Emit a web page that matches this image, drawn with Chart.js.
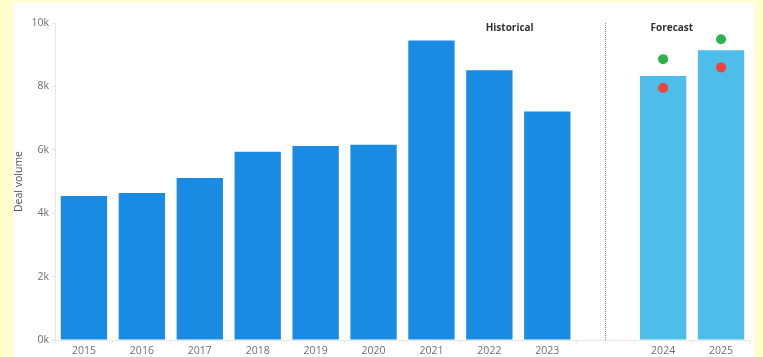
<!DOCTYPE html>
<html>
<head>
<meta charset="utf-8">
<script src="https://cdn.jsdelivr.net/npm/chart.js@4/dist/chart.umd.min.js"></script>
<style>
  html, body { margin: 0; padding: 0; background: #ffffcc; }
  #panel { position: absolute; left: 13px; top: 2px; width: 742px; height: 355px; background: #fff; }
</style>
</head>
<body>
<div id="panel"><canvas id="chart" width="742" height="355"></canvas></div>
<script>
// categories - the empty one is the gap between historical and forecast
const years = ['2015', '2016', '2017', '2018', '2019', '2020', '2021', '2022', '2023', '', '2024', '2025'];
// deal volume per year (forecast values for 2024/2025)
const dealVolume = [4540, 4640, 5110, 5940, 6120, 6160, 9450, 8510, 7210, null, 8330, 9140];
// upper / lower forecast markers
const highCase = [null, null, null, null, null, null, null, null, null, null, 8860, 9490];
const lowCase = [null, null, null, null, null, null, null, null, null, null, 7950, 8600];
const yTicks = [0, 2000, 4000, 6000, 8000, 10000];

const gapIndex = years.indexOf('');
const barColors = years.map((y, i) => i > gapIndex ? '#4fbde9' : '#1a8be3');

// draws the dashed divider and the section labels
const sectionPlugin = {
  id: 'sections',
  afterDatasetsDraw(chart) {
    const { ctx, chartArea, scales } = chart;
    const x = Math.round(scales.x.getPixelForValue(gapIndex)) + 0.5;
    ctx.save();
    ctx.strokeStyle = '#888';
    ctx.lineWidth = 1;
    ctx.setLineDash([1, 1]);
    ctx.beginPath();
    ctx.moveTo(x, chartArea.top);
    ctx.lineTo(x, chartArea.bottom);
    ctx.stroke();
    ctx.setLineDash([]);
    ctx.fillStyle = '#333';
    ctx.font = 'bold 10px "Open Sans", sans-serif';
    ctx.textAlign = 'center';
    ctx.textBaseline = 'middle';
    ctx.fillText('Historical', scales.x.getPixelForValue(gapIndex - 1.65), chartArea.top + 5);
    ctx.fillText('Forecast', scales.x.getPixelForValue(gapIndex + 1.15), chartArea.top + 5);
    ctx.restore();
  }
};

new Chart(document.getElementById('chart'), {
  type: 'bar',
  data: {
    labels: years,
    datasets: [
      {
        type: 'line',
        data: highCase,
        showLine: false,
        pointRadius: 5,
        pointHoverRadius: 5,
        pointBackgroundColor: '#2db34a',
        pointBorderWidth: 0,
        order: 0
      },
      {
        type: 'line',
        data: lowCase,
        showLine: false,
        pointRadius: 5,
        pointHoverRadius: 5,
        pointBackgroundColor: '#f0443a',
        pointBorderWidth: 0,
        order: 1
      },
      {
        label: 'Deal volume',
        data: dealVolume,
        backgroundColor: barColors,
        categoryPercentage: 0.8,
        barPercentage: 1,
        order: 2
      }
    ]
  },
  options: {
    responsive: false,
    animation: false,
    layout: { padding: { top: 21, right: 4, left: 0, bottom: 0 } },
    plugins: {
      legend: { display: false },
      tooltip: { enabled: false }
    },
    scales: {
      x: {
        grid: { display: true, drawOnChartArea: false, tickLength: 3, color: '#e6e6e6' },
        border: { color: '#e6e6e6' },
        ticks: {
          color: '#707070',
          font: { size: 10.5, family: '"Open Sans", sans-serif' },
          padding: 2,
          maxRotation: 0,
          autoSkip: false
        },
        afterFit(scale) { scale.height = 17; }
      },
      y: {
        min: 0,
        max: 10000,
        afterBuildTicks(scale) { scale.ticks = yTicks.map(v => ({ value: v })); },
        grid: { display: true, drawOnChartArea: false, tickLength: 3, color: '#e6e6e6' },
        border: { color: '#e6e6e6' },
        ticks: {
          color: '#707070',
          font: { size: 10.5, family: '"Open Sans", sans-serif' },
          padding: 3,
          callback: v => (v / 1000) + 'k'
        },
        title: {
          display: true,
          text: 'Deal volume',
          color: '#555',
          font: { size: 10.5, family: '"Open Sans", sans-serif' },
          padding: 0
        },
        afterFit(scale) { scale.width = 42; }
      }
    }
  },
  plugins: [sectionPlugin]
});
</script>
</body>
</html>
